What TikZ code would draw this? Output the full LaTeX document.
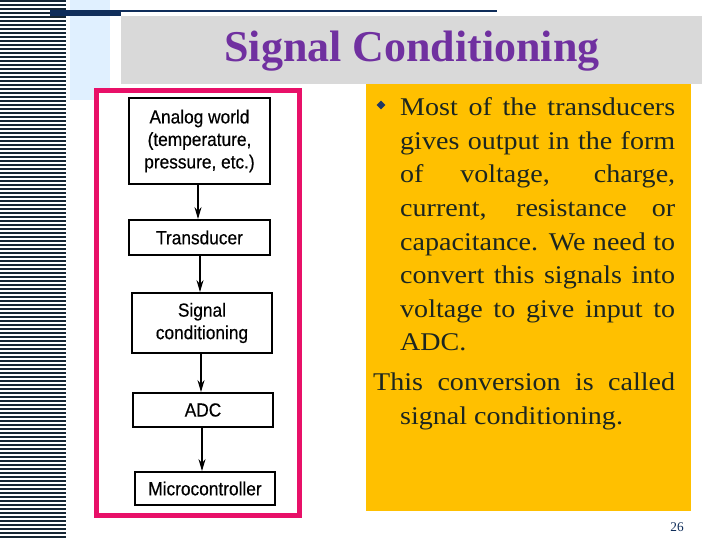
\documentclass[tikz,border=0pt]{standalone}
\usepackage{fontspec}
\setmainfont{Liberation Serif}
\newfontfamily\sansf[FakeStretch=0.91,FakeBold=0.4]{Liberation Sans}
\newfontfamily\bodyf[FakeStretch=1.1]{Liberation Serif}
\usetikzlibrary{arrows.meta,shapes.geometric}
\definecolor{stripe}{RGB}{22,38,52}
\definecolor{navy}{RGB}{15,45,90}
\definecolor{lightblue}{RGB}{224,240,255}
\definecolor{titlegray}{RGB}{217,217,217}
\definecolor{titlepurple}{RGB}{112,48,160}
\definecolor{orangebox}{RGB}{255,192,0}
\definecolor{bodytext}{RGB}{28,38,32}
\definecolor{pinkframe}{RGB}{232,16,104}
\definecolor{bulletnavy}{RGB}{31,56,100}
\tikzset{
  blockbox/.style={draw=black, line width=1.8pt, fill=white, inner sep=0pt,
    font=\sansf\fontsize{19}{22.5}\selectfont, align=center},
  flowarrow/.style={line width=1.5pt, -{Stealth[length=12pt,width=7pt]}},
}
\begin{document}
\begin{tikzpicture}[x=1pt,y=-1pt]
\useasboundingbox (0,0) rectangle (720,540);
\fill[white] (0,0) rectangle (720,540);
% left stripes
\foreach \i in {0,...,134}{
  \draw[stripe, line width=1.2pt] (0,{4*\i+1}) -- (66,{4*\i+1});
}
% light blue block
\fill[lightblue] (70,0) rectangle (110,100);
% title bar
\fill[titlegray] (121,16) rectangle (702,84);
\fill[navy] (50,10) rectangle (121,16.5);
\draw[navy, line width=2pt] (121,11) -- (497,11);
\node[text=titlepurple, font=\bfseries\fontsize{44}{50}\selectfont, anchor=base, inner sep=0pt] (title) at (412,62) {Signal Conditioning};
% orange text box
\fill[orangebox] (366,84) rectangle (691,511);
\node[diamond, fill=bulletnavy, inner sep=0pt, minimum size=9pt] (bullet) at (381,105) {};
\node[anchor=north west, inner sep=0pt, text width=302pt, align=justify, text=bodytext,
  font=\bodyf\fontsize{25.5}{33.6}\selectfont] (body) at (373,97.5) {%
\setlength{\parskip}{6.4pt}\setlength{\parindent}{0pt}%
{\leftskip=27pt Most of the transducers\linebreak gives output in the form\linebreak of voltage, charge,\linebreak current, resistance or\linebreak capacitance. We need to\linebreak convert this signals into\linebreak voltage to give input to\linebreak ADC.\par}
\hangindent=27pt\hangafter=1 This conversion is called\linebreak signal conditioning.\par};
% page number
\node[text=navy, font=\fontsize{13.3}{15}\selectfont, anchor=base, inner sep=0pt] (pagenum) at (677,531) {26};
% pink frame
\draw[pinkframe, line width=5pt, fill=white] (96.7,91) rectangle (299.5,515.5);
% flow chart
\node[blockbox, minimum width=141pt, minimum height=86pt] (analog) at (199.5,141) {Analog world\\(temperature,\\pressure, etc.)};
\node[blockbox, minimum width=141pt, minimum height=35pt] (trans) at (199.5,237.5) {Transducer};
\node[blockbox, minimum width=140pt, minimum height=60pt] (signal) at (202,323) {Signal\\conditioning};
\node[blockbox, minimum width=140pt, minimum height=34pt] (adc) at (203,410) {ADC};
\node[blockbox, minimum width=140pt, minimum height=33pt] (micro) at (205,488.5) {Microcontroller};
\draw[flowarrow] ([xshift=-1.5pt]analog.south) -- ([xshift=-1.5pt]analog.south |- trans.north);
\draw[flowarrow] ([xshift=0.5pt]trans.south) -- ([xshift=0.5pt]trans.south |- signal.north);
\draw[flowarrow] ([xshift=-1pt]signal.south) -- ([xshift=-1pt]signal.south |- adc.north);
\draw[flowarrow] ([xshift=-1pt]adc.south) -- ([xshift=-1pt]adc.south |- micro.north);
\end{tikzpicture}
\end{document}
